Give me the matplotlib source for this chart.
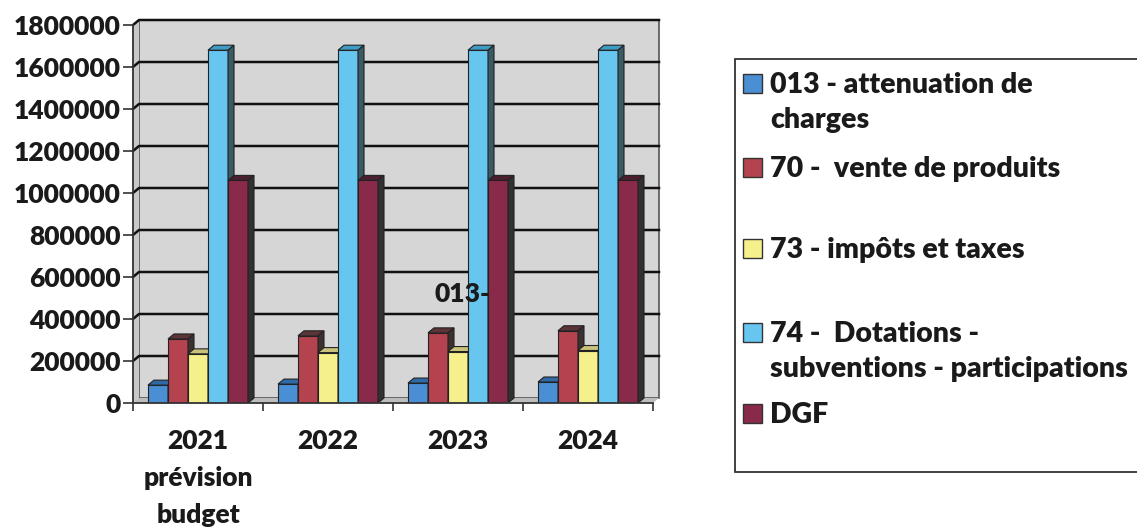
import matplotlib
matplotlib.use("Agg")
import matplotlib.pyplot as plt
from matplotlib.patches import Polygon, Rectangle
import numpy as np

plt.rcParams['font.family'] = ['Lato', 'DejaVu Sans']
plt.rcParams['font.weight'] = 'heavy'

years = ['2021\nprévision\nbudget', '2022', '2023', '2024']
series = ['013 - attenuation de\ncharges',
          '70 -  vente de produits',
          '73 - impôts et taxes',
          '74 -  Dotations -\nsubventions - participations',
          'DGF']
attenuation = [85000, 90000, 95000, 100000]
vente = [305000, 320000, 334000, 344000]
impots = [234000, 240000, 245000, 250000]
dotations = [1680000, 1680000, 1680000, 1680000]
dgf = [1060000, 1060000, 1060000, 1060000]
values = [attenuation, vente, impots, dotations, dgf]

colors = ['#4a8fd4', '#b5424f', '#f5ef8c', '#66c6f0', '#8a2a4a']
tops = ['#2f6aa6', '#5c3438', '#c9c27a', '#3f9cc4', '#4a2030']
sides = ['#2c4a66', '#3d3030', '#8c8a6a', '#3a5a66', '#333033']

W, H = 1137, 531
fig = plt.figure(figsize=(W / 100, H / 100), dpi=100)
ax = fig.add_axes([133 / W, 1 - 403 / H, 520 / W, 378 / H])

ymax = 1800000
ax.set_xlim(-0.5, 3.5)
ax.set_ylim(0, ymax)

# depth of the fake 3d effect, in data units
dx = 6 / 130
dy = 5 / 378 * ymax

# back wall, side wall, floor and grid
ax.add_patch(Rectangle((-0.5 + dx, dy), 4, ymax, facecolor='#d6d6d6',
                       edgecolor='#555555', lw=1.2, clip_on=False, zorder=0))
ax.add_patch(Polygon([(-0.5, 0), (-0.5 + dx, dy), (-0.5 + dx, ymax + dy),
                      (-0.5, ymax)], closed=True, facecolor='#c8c8c8',
                     edgecolor='none', clip_on=False, zorder=0))
ax.add_patch(Polygon([(-0.5, 0), (-0.5 + dx, dy), (3.5 + dx, dy), (3.5, 0)],
                     closed=True, facecolor='#bdbdbd', edgecolor='none',
                     clip_on=False, zorder=0))
for v in np.arange(200000, ymax + 1, 200000):
    ax.plot([-0.5, -0.5 + dx, 3.5 + dx], [v, v + dy, v + dy], color='#111111',
            lw=1.8, clip_on=False, zorder=1)

x = np.arange(len(years))
bw = 20 / 130
offsets = (np.arange(len(series)) - 2) * bw
z = 3
for i in range(len(years)):
    for j, vals in enumerate(values):
        left = x[i] + offsets[j] - bw / 2
        h = vals[i]
        ax.bar(left, h, width=bw, align='edge', color=colors[j],
               edgecolor='#222222', lw=0.8, zorder=z)
        ax.add_patch(Polygon([(left, h), (left + dx, h + dy),
                              (left + bw + dx, h + dy), (left + bw, h)],
                             closed=True, facecolor=tops[j],
                             edgecolor='#222222', lw=0.8, zorder=z))
        ax.add_patch(Polygon([(left + bw, 0), (left + bw, h),
                              (left + bw + dx, h + dy), (left + bw + dx, dy)],
                             closed=True, facecolor=sides[j],
                             edgecolor='#222222', lw=0.8, zorder=z))
        z += 1

ax.text(1.82, 520000, '013-', fontsize=19, color='#1a1a1a',
        ha='left', va='center', zorder=z)

for s in ['top', 'right']:
    ax.spines[s].set_visible(False)
for s in ['left', 'bottom']:
    ax.spines[s].set_color('#333333')
    ax.spines[s].set_linewidth(1.3)
    ax.spines[s].set_zorder(z + 1)

ax.set_yticks(np.arange(0, ymax + 1, 200000))
ax.set_yticklabels([str(int(v)) for v in np.arange(0, ymax + 1, 200000)],
                   fontsize=19, color='#1a1a1a')
ax.tick_params(axis='y', length=7, width=1.2, pad=2, color='#333333')
ax.set_xticks(np.arange(-0.5, 4, 1), minor=True)
ax.set_xticks(x)
ax.set_xticklabels(years, fontsize=19, color='#1a1a1a', linespacing=1.65)
ax.tick_params(axis='x', which='major', length=0, pad=19)
ax.tick_params(axis='x', which='minor', length=6, width=1.2, color='#333333')


# legend drawn by hand to keep the uneven row spacing
def fx(px):
    return px / W


def fy(py):
    return 1 - py / H


fig.patches.append(Rectangle((fx(735), fy(472)), fx(1140) - fx(735),
                             fy(59) - fy(472), transform=fig.transFigure,
                             facecolor='white', edgecolor='#333333', lw=1.3))
rows = [83, 167, 248, 332, 413]
for j, label in enumerate(series):
    yc = rows[j]
    fig.patches.append(Rectangle((fx(743), fy(yc + 10)), fx(19), 19 / H,
                                 transform=fig.transFigure,
                                 facecolor=colors[j], edgecolor='#333333',
                                 lw=1.0))
    fig.text(fx(770), fy(yc - 11), label, fontsize=20.5,
             color='#1a1a1a', ha='left', va='top', linespacing=1.45)

fig.savefig('out.png', dpi=100, facecolor='white')
